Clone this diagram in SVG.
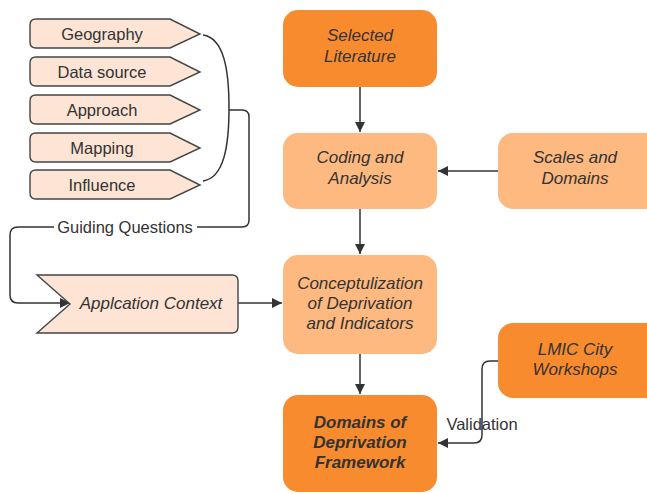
<svg xmlns="http://www.w3.org/2000/svg" width="647" height="494" viewBox="0 0 647 494">
<defs>
<style>
.t{font-family:"Liberation Sans",Arial,sans-serif;fill:#333;text-anchor:middle}
.tag{fill:#FDE4D5;stroke:#444;stroke-width:1.4}
.dark{fill:#F98B2F}
.light{fill:#FDB97F}
.c{fill:none;stroke:#333;stroke-width:1.5}
.it{font-style:italic;font-size:17px}
.s{font-size:16.5px}
</style>
<marker id="ah" viewBox="0 0 10 10" refX="10" refY="5" markerWidth="10" markerHeight="10" markerUnits="userSpaceOnUse" orient="auto">
<path d="M0,0 L10,5 L0,10 Z" fill="#333"/>
</marker>
</defs>
<g id="connectors">
<path class="c" d="M360,87 L360,132" marker-end="url(#ah)"/>
<path class="c" d="M498,171 L438,171" marker-end="url(#ah)"/>
<path class="c" d="M360,209 L360,254" marker-end="url(#ah)"/>
<path class="c" d="M360,354 L360,394" marker-end="url(#ah)"/>
<path class="c" d="M238,303 L282,303" marker-end="url(#ah)"/>
<path class="c" d="M498,361 L490,361 Q482,361 482,369 L482,435 Q482,443 474,443 L438,443" marker-end="url(#ah)"/>
<path class="c" d="M203,35 C224,38 229,70 229,108 C229,146 224,178 203,181"/>
<path class="c" d="M229,110 L242,110 Q249,110 249,117 L249,220 Q249,227 242,227 L197,227"/>
<path class="c" d="M54,227 L18,227 Q10,227 10,235 L10,295 Q10,303 18,303 L70,303" marker-end="url(#ah)"/>
<text class="t s" x="125" y="233">Guiding Questions</text>
<text class="t s" x="482" y="430">Validation</text>
</g>
<g id="geography">
<path class="tag" d="M36,19 L170,19 L200,34 L170,48 L36,48 Q30,48 30,42 L30,25 Q30,19 36,19 Z"/>
<text class="t s" x="102" y="40">Geography</text>
</g>
<g id="datasource">
<path class="tag" d="M36,57 L170,57 L200,72 L170,86 L36,86 Q30,86 30,80 L30,63 Q30,57 36,57 Z"/>
<text class="t s" x="102" y="78">Data source</text>
</g>
<g id="approach">
<path class="tag" d="M36,95 L170,95 L200,110 L170,124 L36,124 Q30,124 30,118 L30,101 Q30,95 36,95 Z"/>
<text class="t s" x="102" y="116">Approach</text>
</g>
<g id="mapping">
<path class="tag" d="M36,133 L170,133 L200,148 L170,162 L36,162 Q30,162 30,156 L30,139 Q30,133 36,133 Z"/>
<text class="t s" x="102" y="154">Mapping</text>
</g>
<g id="influence">
<path class="tag" d="M36,170 L170,170 L200,185 L170,199 L36,199 Q30,199 30,193 L30,176 Q30,170 36,170 Z"/>
<text class="t s" x="102" y="191">Influence</text>
</g>
<g id="application">
<path class="tag" d="M37,275 L232,275 Q238,275 238,281 L238,327 Q238,333 232,333 L37,333 L70,304 Z"/>
<text class="t it" x="151" y="309">Applcation Context</text>
</g>
<g id="selected">
<rect class="dark" x="283" y="10" width="154" height="77" rx="15"/>
<text class="t it" x="360" y="41">Selected</text>
<text class="t it" x="360" y="62">Literature</text>
</g>
<g id="coding">
<rect class="light" x="283" y="133" width="154" height="76" rx="15"/>
<text class="t it" x="360" y="163">Coding and</text>
<text class="t it" x="360" y="184">Analysis</text>
</g>
<g id="scales">
<rect class="light" x="498" y="133" width="170" height="76" rx="15"/>
<text class="t it" x="575" y="163">Scales and</text>
<text class="t it" x="575" y="184">Domains</text>
</g>
<g id="concept">
<rect class="light" x="283" y="255" width="154" height="99" rx="15"/>
<text class="t it" x="360" y="289">Conceptulization</text>
<text class="t it" x="360" y="309">of Deprivation</text>
<text class="t it" x="360" y="329">and Indicators</text>
</g>
<g id="lmic">
<rect class="dark" x="498" y="323" width="170" height="75" rx="15"/>
<text class="t it" x="575" y="355">LMIC City</text>
<text class="t it" x="575" y="375">Workshops</text>
</g>
<g id="domains">
<rect class="dark" x="283" y="395" width="154" height="97" rx="15"/>
<text class="t it" x="360" y="428" font-weight="bold">Domains of</text>
<text class="t it" x="360" y="448" font-weight="bold">Deprivation</text>
<text class="t it" x="360" y="468" font-weight="bold">Framework</text>
</g>
</svg>
